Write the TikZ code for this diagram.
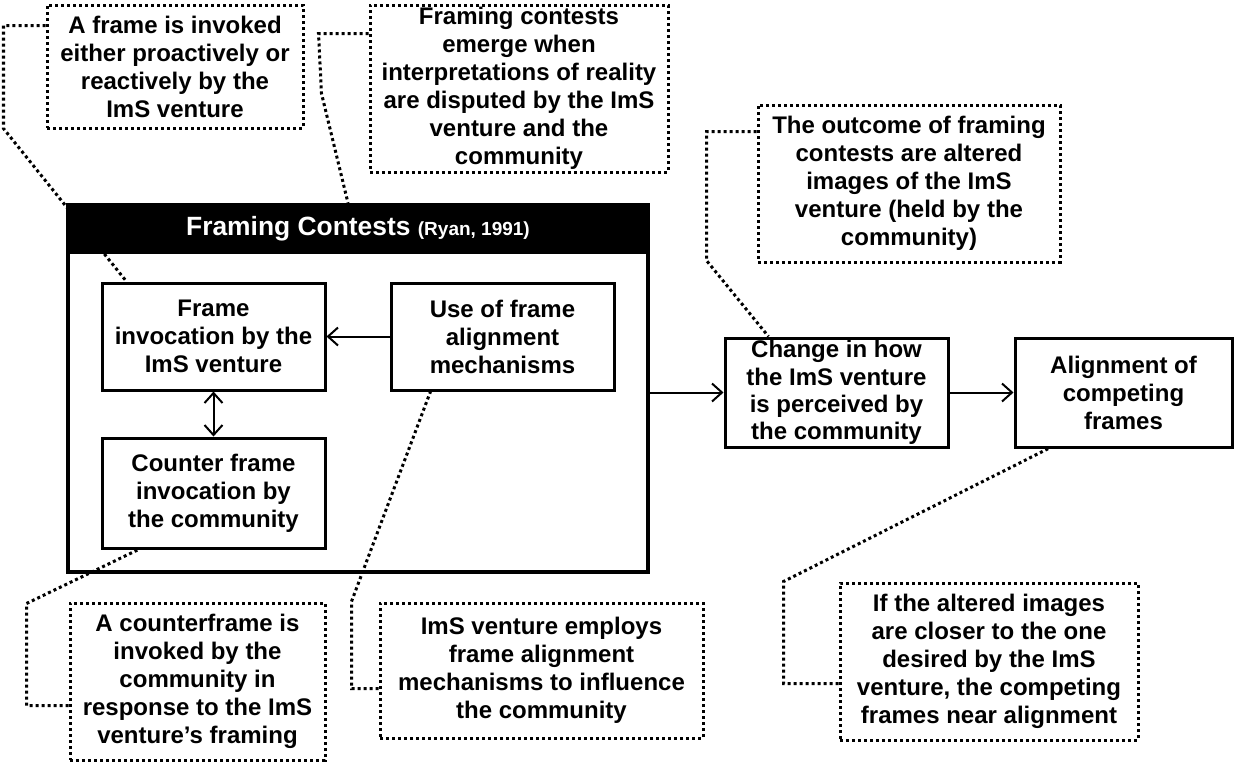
\documentclass[tikz,border=0pt]{standalone}
\usepackage{fontspec}
\setmainfont{Liberation Sans}
\usetikzlibrary{arrows.meta,calc,backgrounds}

\tikzset{
    stage/.style={draw, line width=1.5pt, align=center, inner sep=0pt,
        font=\fontsize{12}{14}\selectfont\bfseries},
    note/.style={draw, line width=1.5pt, dash pattern=on 1.5pt off 1.5pt,
        align=center, inner sep=0pt, font=\fontsize{12}{14}\selectfont\bfseries},
    leader/.style={line width=1.5pt, dash pattern=on 1.5pt off 1.5pt},
    flow/.style={line width=1pt, -{Straight Barb[length=5pt,width=9pt]}},
}

\begin{document}
\begin{tikzpicture}[x=0.5pt, y=-0.5pt]
            \useasboundingbox (0, 0) rectangle (1239, 762);

            % framing contests
            \node[draw, line width=2pt, minimum width=290pt, minimum height=183.5pt] (contest) at (358, 388.5) {};
            \node[stage, minimum width=111.5pt, minimum height=53.5pt] (frame) at (213.5, 336.5) {Frame\\invocation by the\\ImS venture};
            \node[stage, minimum width=111.5pt, minimum height=53.5pt] (align) at (502.5, 336.5) {Use of frame\\alignment\\mechanisms};
            \node[stage, minimum width=111.5pt, minimum height=55pt] (counter) at (213.5, 493) {Counter frame\\invocation by\\the community};

            % outcome
            \node[stage, font=\fontsize{12}{13.6}\selectfont\bfseries, minimum width=111.5pt, minimum height=54.5pt] (change) at (836.5, 392.5) {Change in how\\the ImS venture\\is perceived by\\the community};
            \node[stage, minimum width=108.5pt, minimum height=54.5pt] (compete) at (1123.5, 392.5) {Alignment of\\competing\\frames};

            % notes
            \node[note, minimum width=128pt, minimum height=61.5pt] (note1) at (175, 66.5) {A frame is invoked\\either proactively or\\reactively by the\\ImS venture};
            \node[note, minimum width=149pt, minimum height=83.5pt] (note2) at (519, 88.5) {Framing contests\\emerge when\\interpretations of reality\\are disputed by the ImS\\venture and the\\community};
            \node[note, minimum width=151pt, minimum height=78.5pt] (note3) at (909, 183.5) {The outcome of framing\\contests are altered\\images of the ImS\\venture (held by the\\community)};
            \node[note, minimum width=127.5pt, minimum height=78.5pt] (note4) at (197.5, 681.5) {A counterframe is\\invoked by the\\community in\\response to the ImS\\venture’s framing};
            \node[note, minimum width=161.5pt, minimum height=67.5pt] (note5) at (541.5, 670.5) {ImS venture employs\\frame alignment\\mechanisms to influence\\the community};
            \node[note, minimum width=149pt, minimum height=78.5pt] (note6) at (989, 661.5) {If the altered images\\are closer to the one\\desired by the ImS\\venture, the competing\\frames near alignment};

            \begin{scope}[on background layer]
                \draw[leader] ($(note1.north west)+(0, 22)$) -- ++(-42, 0) -- ++(0, 103) -- ($(frame.north west)+(26, 0)$);
                \draw[leader] ($(note2.north west)+(0, 30)$) -- ++(-50, 0) -- ++(3, 60) -- ($(contest.north west)+(282, 0)$);
                \draw[leader] ($(note3.north west)+(0, 28)$) -- ++(-50, 0) -- ++(0, 129) -- ($(change.north west)+(45, 0)$);
                \draw[leader] ($(note4.north west)+(0, 104)$) -- ++(-42, 0) -- ++(0, -102) -- ($(counter.south west)+(38, 0)$);
                \draw[leader] ($(note5.north west)+(0, 87)$) -- ++(-27, 0) -- ++(0, -87) -- ($(align.south west)+(41, 0)$);
                \draw[leader] ($(note6.north west)+(0, 102)$) -- ++(-55, 0) -- ++(0, -102) -- ($(compete.south west)+(35, 0)$);
            \end{scope}

            % title bar goes over the leader
            \node[fill=black, draw, line width=2pt, text=white, minimum width=290pt, minimum height=23.5pt, inner sep=0pt] (head) at (358, 228.5)
                {\fontsize{13.2}{15}\selectfont\bfseries Framing Contests {\fontsize{9.5}{11}\selectfont (Ryan, 1991)}};

            \draw[flow] (align) -- (frame);
            \draw[flow, {Straight Barb[length=5pt,width=9pt]}-{Straight Barb[length=5pt,width=9pt]}] (frame) -- (counter);
            \draw[flow] (contest.east |- change.west) -- (change.west);
            \draw[flow] (change) -- (compete);
        \end{tikzpicture}
\end{document}
